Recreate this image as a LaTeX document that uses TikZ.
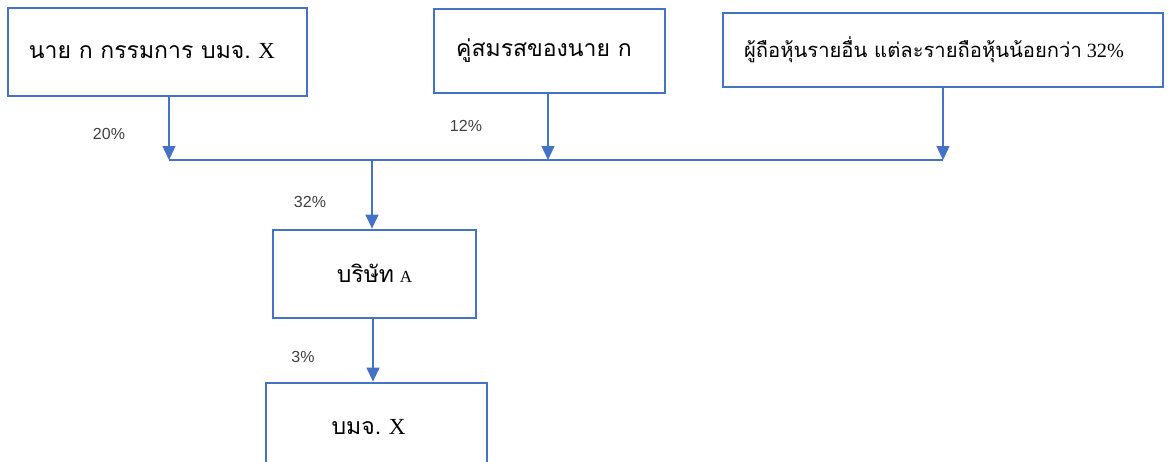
\documentclass[tikz,border=0pt]{standalone}
\usepackage{fontspec}
\setmainfont{Liberation Serif}
\setsansfont{Liberation Sans}
\newfontfamily\thai[Script=Thai]{Loma}
\usetikzlibrary{arrows.meta}
\definecolor{boxblue}{HTML}{4472C4}
\definecolor{lbl}{HTML}{404040}
\newcommand{\smallA}{\fontsize{17}{20}\selectfont A}
\tikzset{
  box/.style={draw=boxblue, line width=2.8pt, inner sep=0pt, align=center},
  big/.style={font=\fontsize{23}{27}\selectfont},
  mid/.style={font=\fontsize{20.2}{24}\selectfont},
  conn/.style={draw=boxblue, line width=1.3pt},
  arr/.style={conn, -{Triangle[width=13pt,length=14pt]}},
  pct/.style={font=\sffamily\fontsize{16}{16}\selectfont, text=lbl, inner sep=0pt}
}
\begin{document}
\begin{tikzpicture}[x=1pt,y=-1pt]
\useasboundingbox (0,0) rectangle (1168,461);
\node[box, big, minimum width=299pt, minimum height=88pt] (k) at (157.5,52) {\raisebox{3pt}{{\thai นาย ก กรรมการ บมจ.} X}\hspace*{11pt}};
\node[box, big, minimum width=231pt, minimum height=84pt] (s) at (549.5,51) {\raisebox{3pt}{\thai คู่สมรสของนาย ก}\hspace*{11pt}};
\node[box, mid, minimum width=440pt, minimum height=74pt] (o) at (943,50) {\raisebox{4pt}{{\thai ผู้ถือหุ้นรายอื่น แต่ละรายถือหุ้นน้อยกว่า} 32\%}\hspace*{18pt}};
\node[box, big, minimum width=203pt, minimum height=88pt] (a) at (374.5,274) {\raisebox{2pt}{{\thai บริษัท} \smallA}};
\node[box, big, minimum width=221pt, minimum height=88pt] (x) at (376.5,427) {{\thai บมจ.} X\hspace*{16pt}};
\coordinate (j1) at (169,160);
\coordinate (j2) at (548,160);
\coordinate (j3) at (943,160);
\coordinate (jm) at (372,160);
\coordinate (ja) at (373,300);
\draw[conn] (j1) -- (j3);
\draw[arr] (k.south -| j1) -- (j1);
\draw[arr] (s.south -| j2) -- (j2);
\draw[arr] (o.south -| j3) -- (j3);
\draw[arr] (jm) -- (a.north -| jm);
\draw[arr] (a.south -| ja) -- (x.north -| ja);
\node[pct] (p1) at (109,134) {20\%};
\node[pct] (p2) at (466,126) {12\%};
\node[pct] (p3) at (310,202) {32\%};
\node[pct] (p4) at (303,357) {3\%};
\end{tikzpicture}
\end{document}
